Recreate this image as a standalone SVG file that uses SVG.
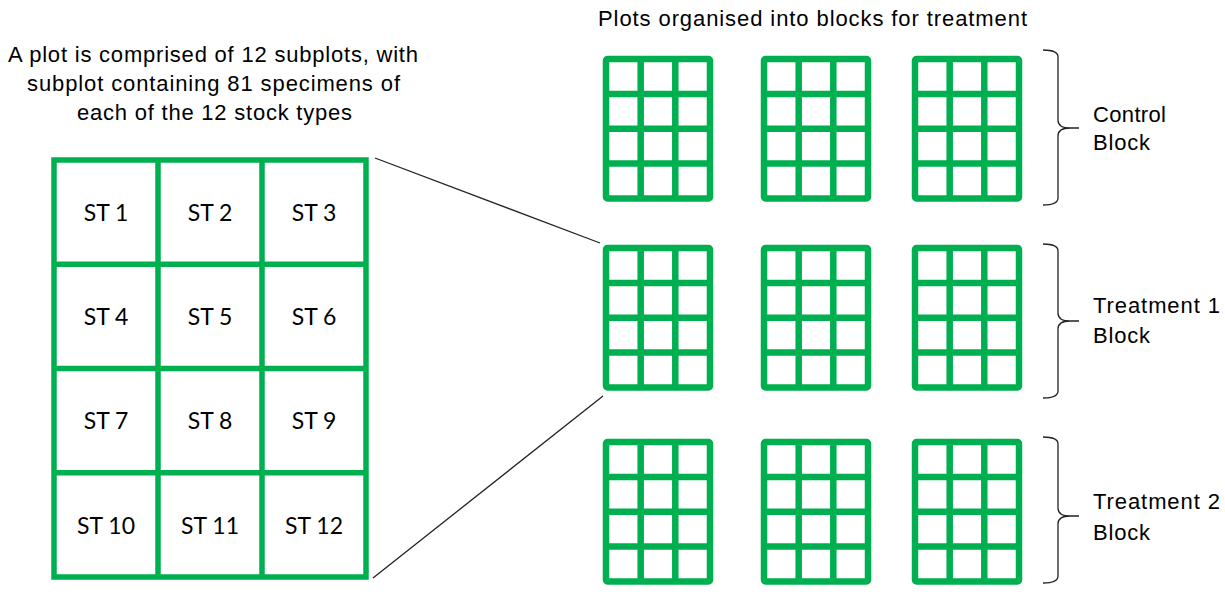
<svg xmlns="http://www.w3.org/2000/svg" width="1225" height="594" viewBox="0 0 1225 594">
<style>
.t{font-family:"Liberation Sans",Arial,sans-serif;font-size:22px;fill:#000}
.c{font-family:Lato,"Liberation Sans",sans-serif;font-size:23px;fill:#000;text-anchor:middle}
.g{fill:none;stroke:#00B050}
.big{stroke-width:5.5}
.sm{stroke-width:6.5;stroke-linejoin:round}
.ln{stroke:#222;stroke-width:1.3;fill:none}
</style>
<defs>
<g id="mini" class="g sm">
<rect x="0" y="0" width="104" height="139.5" rx="1.5"/>
<path d="M34.7,0V139.5M69.3,0V139.5M0,34.9H104M0,69.75H104M0,104.6H104"/>
</g>
</defs>
<rect width="1225" height="594" fill="#fff"/>
<g id="left-title">
<text class="t" x="213" y="62" text-anchor="middle" textLength="410" lengthAdjust="spacing">A plot is comprised of 12 subplots, with</text>
<text class="t" x="213.5" y="91" text-anchor="middle" textLength="373" lengthAdjust="spacing">subplot containing 81 specimens of</text>
<text class="t" x="214.5" y="120" text-anchor="middle" textLength="275" lengthAdjust="spacing">each of the 12 stock types</text>
</g>
<g id="right-title">
<text class="t" x="812.5" y="26" text-anchor="middle" textLength="429" lengthAdjust="spacing">Plots organised into blocks for treatment</text>
</g>
<g id="plot-detail">
<g class="g big">
<rect x="54" y="160" width="312" height="417"/>
<path d="M158,160V577M262,160V577M54,264.25H366M54,368.5H366M54,472.75H366"/>
</g>
<g>
<text class="c" x="106" y="221">ST 1</text>
<text class="c" x="210" y="221">ST 2</text>
<text class="c" x="314" y="221">ST 3</text>
<text class="c" x="106" y="325">ST 4</text>
<text class="c" x="210" y="325">ST 5</text>
<text class="c" x="314" y="325">ST 6</text>
<text class="c" x="106" y="429">ST 7</text>
<text class="c" x="210" y="429">ST 8</text>
<text class="c" x="314" y="429">ST 9</text>
<text class="c" x="106" y="534">ST 10</text>
<text class="c" x="210" y="534">ST 11</text>
<text class="c" x="314" y="534">ST 12</text>
</g>
</g>
<g id="control-block">
<use href="#mini" x="606" y="59"/>
<use href="#mini" x="764" y="59"/>
<use href="#mini" x="915" y="59"/>
<path class="ln" d="M1043,50Q1058,50 1058,57V120Q1058,128 1070,128H1079M1070,128Q1058,128 1058,136V198Q1058,205 1043,205"/>
<text class="t" x="1093" y="121.5" textLength="73" lengthAdjust="spacing">Control</text>
<text class="t" x="1093" y="150" textLength="57" lengthAdjust="spacing">Block</text>
</g>
<g id="treatment1-block">
<use href="#mini" x="606" y="248"/>
<use href="#mini" x="764" y="248"/>
<use href="#mini" x="915" y="248"/>
<path class="ln" d="M1043,244Q1058,244 1058,251V313Q1058,321 1070,321H1079M1070,321Q1058,321 1058,329V391Q1058,398 1043,398"/>
<text class="t" x="1093" y="313" textLength="127" lengthAdjust="spacing">Treatment 1</text>
<text class="t" x="1093" y="343" textLength="57" lengthAdjust="spacing">Block</text>
</g>
<g id="treatment2-block">
<use href="#mini" x="606" y="442"/>
<use href="#mini" x="764" y="442"/>
<use href="#mini" x="915" y="442"/>
<path class="ln" d="M1043,437Q1058,437 1058,444V508Q1058,516 1070,516H1079M1070,516Q1058,516 1058,524V576Q1058,583 1043,583"/>
<text class="t" x="1093" y="509" textLength="127" lengthAdjust="spacing">Treatment 2</text>
<text class="t" x="1093" y="540" textLength="57" lengthAdjust="spacing">Block</text>
</g>
<g id="connectors">
<line class="ln" x1="375" y1="158" x2="600" y2="243"/>
<line class="ln" x1="373" y1="578" x2="603" y2="396"/>
</g>
</svg>
